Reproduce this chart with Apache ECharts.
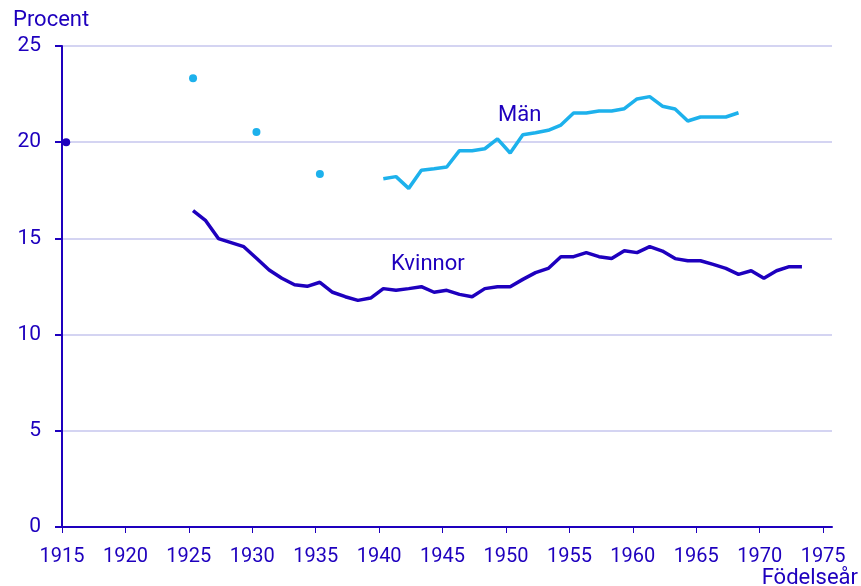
<!DOCTYPE html>
<html>
<head>
<meta charset="utf-8">
<script src="https://cdn.jsdelivr.net/npm/echarts@6/dist/echarts.min.js"></script>
<style>html,body{margin:0;padding:0;background:#fff}#c{width:861px;height:586px}</style>
</head>
<body>
<div id="c"></div>
<script>
var xTickLabels = [1915, 1920, 1925, 1930, 1935, 1940, 1945, 1950, 1955, 1960, 1965, 1970, 1975];
var yTickLabels = [0, 5, 10, 15, 20, 25];

var manDotYears = [1925, 1930, 1935];
var manDotValues = [23.33, 20.53, 18.35];
var kvinnorDotYears = [1915];
var kvinnorDotValues = [20.0];

var manYears = [1940,1941,1942,1943,1944,1945,1946,1947,1948,1949,1950,1951,1952,1953,1954,1955,1956,1957,1958,1959,1960,1961,1962,1963,1964,1965,1966,1967,1968];
var manValues = [18.10,18.21,17.60,18.54,18.62,18.71,19.56,19.56,19.66,20.17,19.44,20.39,20.49,20.62,20.89,21.52,21.52,21.62,21.62,21.74,22.25,22.37,21.87,21.73,21.10,21.31,21.31,21.31,21.53];

var kvinnorYears = [1925,1926,1927,1928,1929,1930,1931,1932,1933,1934,1935,1936,1937,1938,1939,1940,1941,1942,1943,1944,1945,1946,1947,1948,1949,1950,1951,1952,1953,1954,1955,1956,1957,1958,1959,1960,1961,1962,1963,1964,1965,1966,1967,1968,1969,1970,1971,1972,1973];
var kvinnorValues = [16.44,15.92,14.99,14.78,14.57,13.97,13.36,12.93,12.59,12.51,12.72,12.20,11.97,11.78,11.90,12.39,12.30,12.39,12.49,12.20,12.30,12.09,11.97,12.39,12.49,12.49,12.87,13.22,13.44,14.05,14.05,14.26,14.05,13.95,14.36,14.26,14.57,14.34,13.95,13.84,13.84,13.65,13.44,13.13,13.32,12.93,13.32,13.53,13.53];

function zip(a, b) { return a.map(function (v, i) { return [v, b[i]]; }); }

var DARK = '#1e00be';
var LIGHT = '#1db1ec';
var GRID = '#d4d4f2';
var FONT = 'Roboto';

var chart = echarts.init(document.getElementById('c'), null, {renderer: 'canvas'});
chart.setOption({
  animation: false,
  backgroundColor: '#fff',
  grid: {left: 62, right: 29, top: 46, bottom: 59, containLabel: false},
  xAxis: [{
    type: 'value', min: 1915, max: 1975.7, interval: 5,
    axisLine: {show: true, lineStyle: {color: DARK, width: 2}},
    axisTick: {show: true, length: 6, lineStyle: {color: DARK, width: 1}, customValues: xTickLabels},
    axisLabel: {color: DARK, fontFamily: FONT, fontSize: 20, margin: 20, customValues: xTickLabels,
      formatter: function (v) { return String(v); }},
    splitLine: {show: false}
  }, {
    type: 'value', min: 1914.67, max: 1975.37, show: false,
    splitLine: {show: false}
  }],
  yAxis: {
    type: 'value', min: 0, max: 25, interval: 5,
    axisLine: {show: true, lineStyle: {color: DARK, width: 2}},
    axisTick: {show: true, length: 7, lineStyle: {color: DARK, width: 2}},
    axisLabel: {color: DARK, fontFamily: FONT, fontSize: 21, margin: 21,
      formatter: function (v) { return yTickLabels.indexOf(v) >= 0 ? String(v) : ''; }},
    splitLine: {show: true, lineStyle: {color: GRID, width: 2}}
  },
  graphic: [
    {type: 'text', left: 13, top: 9, style: {text: 'Procent', fill: DARK, font: '22px ' + FONT}},
    {type: 'text', right: 3, bottom: -3, style: {text: 'Födelseår', fill: DARK, font: '22px ' + FONT}},
    {type: 'text', left: 498, top: 104, style: {text: 'Män', fill: DARK, font: '22px ' + FONT}},
    {type: 'text', left: 391, top: 253, style: {text: 'Kvinnor', fill: DARK, font: '22px ' + FONT}}
  ],
  series: [
    {name: 'Män', type: 'line', xAxisIndex: 1, data: zip(manYears, manValues), showSymbol: false,
      lineStyle: {color: LIGHT, width: 3.5}, itemStyle: {color: LIGHT}},
    {name: 'Kvinnor', type: 'line', xAxisIndex: 1, data: zip(kvinnorYears, kvinnorValues), showSymbol: false,
      lineStyle: {color: DARK, width: 3.5}, itemStyle: {color: DARK}},
    {name: 'Män punkter', type: 'scatter', xAxisIndex: 1, data: zip(manDotYears, manDotValues), symbolSize: 8,
      itemStyle: {color: LIGHT, opacity: 1}},
    {name: 'Kvinnor punkter', type: 'scatter', xAxisIndex: 1, data: zip(kvinnorDotYears, kvinnorDotValues), symbolSize: 8,
      itemStyle: {color: DARK, opacity: 1}}
  ]
});
</script>
</body>
</html>
